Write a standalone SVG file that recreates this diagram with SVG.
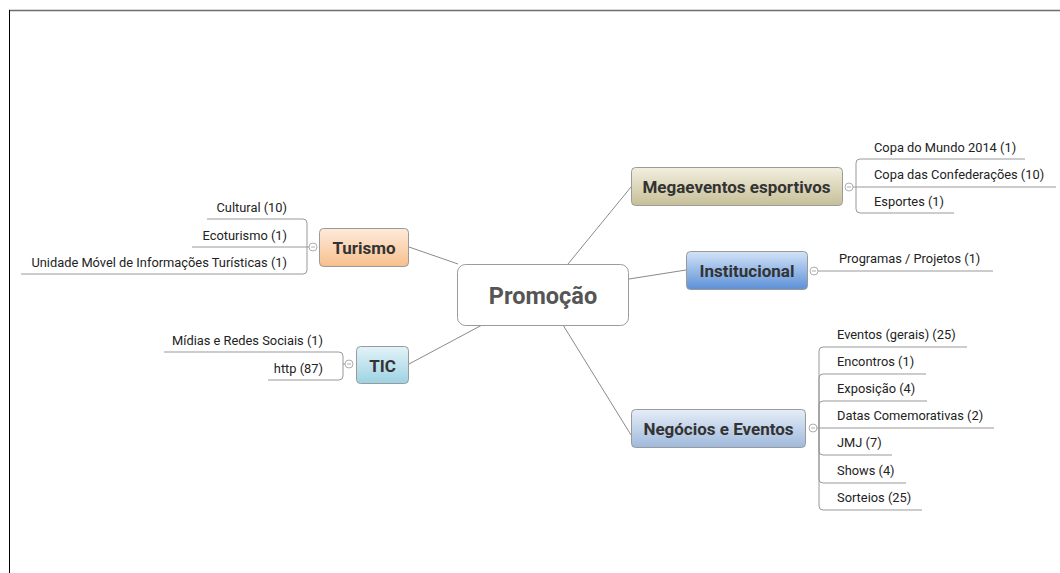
<svg xmlns="http://www.w3.org/2000/svg" width="1060" height="573" viewBox="0 0 1060 573">
<style>
.node{stroke:#9a9a9a;stroke-width:1}
.ntext{font-family:Roboto,"Liberation Sans",sans-serif;font-weight:bold;fill:#333;text-anchor:middle}
.ctext{font-family:Roboto,"Liberation Sans",sans-serif;font-size:12.85px;fill:#222}
.conn{fill:none;stroke:#8a8a8a;stroke-width:1}
.branch{fill:none;stroke:#999;stroke-width:1}
.toggle{fill:#fff;stroke:#999;stroke-width:0.8}
.minus{stroke:#999;stroke-width:0.8}
</style>
<defs>
<linearGradient id="gTur" x1="0" y1="0" x2="0" y2="1"><stop offset="0" stop-color="#feeadb"/><stop offset="1" stop-color="#f7c08c"/></linearGradient>
<linearGradient id="gTic" x1="0" y1="0" x2="0" y2="1"><stop offset="0" stop-color="#e3f3f8"/><stop offset="1" stop-color="#9dd2e3"/></linearGradient>
<linearGradient id="gMeg" x1="0" y1="0" x2="0" y2="1"><stop offset="0" stop-color="#f2efdf"/><stop offset="1" stop-color="#c6bf98"/></linearGradient>
<linearGradient id="gIns" x1="0" y1="0" x2="0" y2="1"><stop offset="0" stop-color="#d3e3f7"/><stop offset="1" stop-color="#5c90d7"/></linearGradient>
<linearGradient id="gNeg" x1="0" y1="0" x2="0" y2="1"><stop offset="0" stop-color="#e6edf7"/><stop offset="1" stop-color="#9fb9dc"/></linearGradient>
</defs>
<rect width="1060" height="573" fill="#fff"/>
<line x1="9" y1="10.5" x2="1060" y2="10.5" stroke="#6e6e6e" stroke-width="1.5"/>
<line x1="9.5" y1="10" x2="9.5" y2="573" stroke="#000" stroke-width="1"/>

<g id="connectors">
<line class="conn" x1="409" y1="247" x2="458" y2="264"/>
<line class="conn" x1="409" y1="364" x2="482" y2="325"/>
<line class="conn" x1="568" y1="264" x2="631" y2="187"/>
<line class="conn" x1="629" y1="279" x2="686" y2="270"/>
<line class="conn" x1="563" y1="325" x2="631" y2="435"/>
</g>

<g id="promocao">
<rect class="node" x="457.5" y="264.5" width="171" height="61" rx="8" fill="#fff"/>
<text class="ntext" x="543" y="304" font-size="23.5" style="fill:#555">Promoção</text>
</g>

<g id="turismo">
<rect class="node" x="319.5" y="228.5" width="89" height="38" rx="4" fill="url(#gTur)"/>
<text class="ntext" x="364" y="253.5" font-size="17">Turismo</text>
<g id="turismo-children">
<path class="branch" d="M307,247 V223 Q307,219 303,219 H207"/>
<path class="branch" d="M309,247 H192"/>
<path class="branch" d="M307,247 V270 Q307,274 303,274 H21"/>
<text class="ctext" x="287" y="212" text-anchor="end">Cultural (10)</text>
<text class="ctext" x="287" y="240" text-anchor="end">Ecoturismo (1)</text>
<text class="ctext" x="287" y="267" text-anchor="end">Unidade Móvel de Informações Turísticas (1)</text>
</g>
<circle class="toggle" cx="313" cy="247" r="4"/><line class="minus" x1="311" y1="247" x2="315" y2="247"/>
</g>

<g id="tic">
<rect class="node" x="356.5" y="346.5" width="52" height="37" rx="4" fill="url(#gTic)"/>
<text class="ntext" x="382.5" y="371.5" font-size="17">TIC</text>
<g id="tic-children">
<path class="branch" d="M345,364 H343 V356 Q343,352 339,352 H164"/>
<path class="branch" d="M343,364 V376 Q343,380 339,380 H268"/>
<text class="ctext" x="323" y="345" text-anchor="end">Mídias e Redes Sociais (1)</text>
<text class="ctext" x="323" y="373" text-anchor="end">http (87)</text>
</g>
<circle class="toggle" cx="349" cy="364" r="4"/><line class="minus" x1="347" y1="364" x2="351" y2="364"/>
</g>

<g id="megaeventos">
<rect class="node" x="631.5" y="167.5" width="211" height="38" rx="4" fill="url(#gMeg)"/>
<text class="ntext" x="736.5" y="192.5" font-size="17">Megaeventos esportivos</text>
<g id="megaeventos-children">
<path class="branch" d="M856,187 V163 Q856,159 860,159 H1025"/>
<path class="branch" d="M853,187 H1056"/>
<path class="branch" d="M856,187 V209 Q856,213 860,213 H954"/>
<text class="ctext" x="874" y="152">Copa do Mundo 2014 (1)</text>
<text class="ctext" x="874" y="179">Copa das Confederações (10)</text>
<text class="ctext" x="874" y="206">Esportes (1)</text>
</g>
<circle class="toggle" cx="849" cy="187" r="4"/><line class="minus" x1="847" y1="187" x2="851" y2="187"/>
</g>

<g id="institucional">
<rect class="node" x="686.5" y="251.5" width="121" height="38" rx="4" fill="url(#gIns)"/>
<text class="ntext" x="747" y="276.5" font-size="17">Institucional</text>
<g id="institucional-children">
<path class="branch" d="M818,271 H993"/>
<text class="ctext" x="839" y="263">Programas / Projetos (1)</text>
</g>
<circle class="toggle" cx="814" cy="271" r="4"/><line class="minus" x1="812" y1="271" x2="816" y2="271"/>
</g>

<g id="negocios">
<rect class="node" x="631.5" y="409.5" width="174" height="38" rx="4" fill="url(#gNeg)"/>
<text class="ntext" x="718.5" y="434.5" font-size="17">Negócios e Eventos</text>
<g id="negocios-children">
<path class="branch" d="M819,428 V351 Q819,347 823,347 H967"/>
<path class="branch" d="M819,428 V378 Q819,374 823,374 H926"/>
<path class="branch" d="M819,428 V405 Q819,401 823,401 H927"/>
<path class="branch" d="M817,428 H994"/>
<path class="branch" d="M819,428 V451 Q819,455 823,455 H892"/>
<path class="branch" d="M819,428 V479 Q819,483 823,483 H906"/>
<path class="branch" d="M819,428 V506 Q819,510 823,510 H922"/>
<text class="ctext" x="837" y="339">Eventos (gerais) (25)</text>
<text class="ctext" x="837" y="366">Encontros (1)</text>
<text class="ctext" x="837" y="393">Exposição (4)</text>
<text class="ctext" x="837" y="420">Datas Comemorativas (2)</text>
<text class="ctext" x="837" y="447">JMJ (7)</text>
<text class="ctext" x="837" y="475">Shows (4)</text>
<text class="ctext" x="837" y="502">Sorteios (25)</text>
</g>
<circle class="toggle" cx="813" cy="428" r="4"/><line class="minus" x1="811" y1="428" x2="815" y2="428"/>
</g>
</svg>
